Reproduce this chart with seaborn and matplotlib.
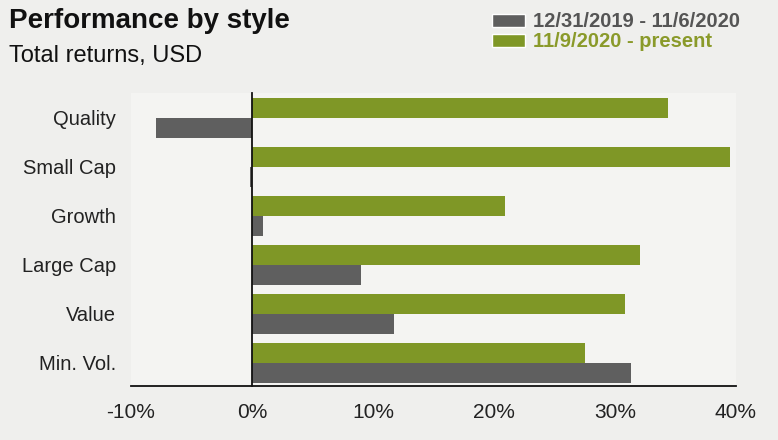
import pandas as pd
import seaborn as sns
import matplotlib.pyplot as plt
from matplotlib.patches import Patch

# Chart values (total returns, %)
styles = ['Quality', 'Small Cap', 'Growth', 'Large Cap', 'Value', 'Min. Vol.']
period_1 = '12/31/2019 - 11/6/2020'
period_2 = '11/9/2020 - present'
returns_p1 = [-7.9, -0.2, 0.9, 9.0, 11.7, 31.3]
returns_p2 = [34.4, 39.5, 20.9, 32.1, 30.8, 27.5]
xticks = [-10, 0, 10, 20, 30, 40]

gray = '#5f5f5f'
green = '#7f9726'

df = pd.DataFrame({
    'style': styles * 2,
    'period': [period_2] * len(styles) + [period_1] * len(styles),
    'ret': returns_p2 + returns_p1,
})

sns.set_style('white')
plt.rcParams['font.family'] = ['Liberation Sans', 'DejaVu Sans']

fig = plt.figure(figsize=(7.78, 4.40), dpi=100, facecolor='#efefed')
ax = fig.add_axes([0.1684, 0.1227, 0.7776, 0.666])
ax.set_facecolor('#f4f4f2')

sns.barplot(data=df, y='style', x='ret', hue='period', order=styles,
            hue_order=[period_2, period_1], palette=[green, gray],
            orient='h', width=0.8, saturation=1, linewidth=0,
            legend=False, ax=ax)

ax.set_xlim(-10, 40)
ax.set_ylim(5.47, -0.51)
ax.set_xticks(xticks)
ax.set_xticklabels([f'{t}%' for t in xticks])
ax.set_xlabel('')
ax.set_ylabel('')

for s in ['top', 'right']:
    ax.spines[s].set_visible(False)
ax.spines['left'].set_position(('data', 0))
ax.spines['left'].set_color('#111111')
ax.spines['left'].set_linewidth(1.3)
ax.spines['bottom'].set_color('#111111')
ax.spines['bottom'].set_linewidth(1.3)

ax.tick_params(axis='y', direction='out', length=4, width=1.2, color='#111111',
               pad=94, labelsize=14.5, labelcolor='#222222')
ax.tick_params(axis='x', direction='out', length=5, width=1.2, color='#111111',
               pad=7, labelsize=15, labelcolor='#222222')

fig.text(0.011, 0.936, 'Performance by style', fontsize=20, fontweight='bold',
         color='#111111', va='baseline')
fig.text(0.011, 0.859, 'Total returns, USD', fontsize=17, color='#111111', va='baseline')

handles = [Patch(facecolor=gray), Patch(facecolor=green)]
leg = fig.legend(handles, ['12/31/2019 - 11/6/2020', '11/9/2020 - present'],
                 loc='upper left', bbox_to_anchor=(0.62, 0.995), frameon=False,
                 borderpad=0, handlelength=1.6, handleheight=0.6, handletextpad=0.4,
                 labelspacing=0.05, prop={'size': 14.5, 'weight': 'bold'})
for txt, c in zip(leg.get_texts(), ['#555555', '#8a9a2a']):
    txt.set_color(c)

fig.savefig('out.png', dpi=100, facecolor=fig.get_facecolor())
